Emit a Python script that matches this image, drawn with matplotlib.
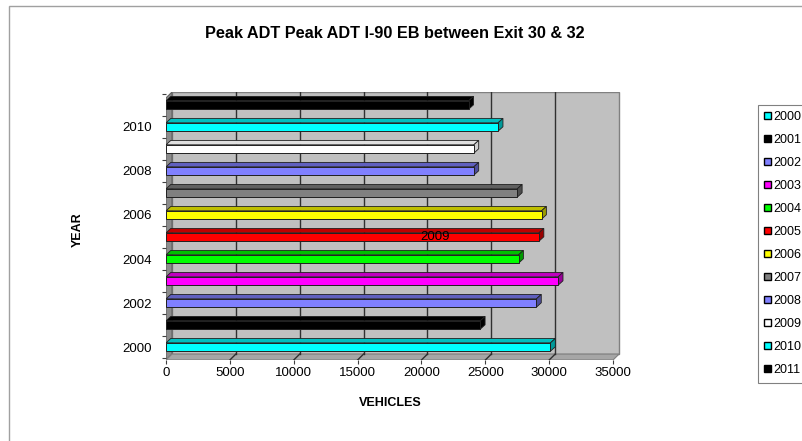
import numpy as np
import matplotlib.pyplot as plt
from matplotlib.patches import Polygon, Rectangle, Patch
import matplotlib.colors as mcolors

plt.rcParams['font.family'] = ['Liberation Sans', 'DejaVu Sans']

### Data
years = ['2000', '2001', '2002', '2003', '2004', '2005',
         '2006', '2007', '2008', '2009', '2010', '2011']
vehicles = [30100, 24600, 29000, 30700, 27600, 29200,
            29400, 27500, 24100, 24100, 26000, 23700]
bar_colors = ['#00ffff', '#000000', '#8080ff', '#ff00ff', '#00ff00', '#ff0000',
              '#ffff00', '#808080', '#8080ff', '#ffffff', '#00ffff', '#000000']
x_ticks = [0, 5000, 10000, 15000, 20000, 25000, 30000, 35000]
title = 'Peak ADT Peak ADT I-90 EB between Exit 30 & 32'


def shade(c, f):
	rgb = np.array(mcolors.to_rgb(c)) * f
	return tuple(rgb)


fig = plt.figure(figsize=(8.02, 4.41), dpi=100)
ax = fig.add_axes([166/802, 81/441, 456/802, 268/441])

xmax = x_ticks[-1]
dx, dy = 470, 0.27          # depth of the 3d box
y0, y1 = -0.59, len(years) - 1 + 0.59
ax.set_xlim(0, 35700)
ax.set_ylim(y0, y1)
for s in ax.spines.values():
	s.set_visible(False)

# walls
ax.add_patch(Rectangle((dx, y0 + dy), xmax, y1 - y0 - dy, fc='#c0c0c0', ec='#808080', lw=1, zorder=0))
ax.add_patch(Polygon([(0, y0), (dx, y0 + dy), (dx, y1), (0, y1 - dy)], closed=True,
                     fc='#8c8c8c', ec='#606060', lw=0.8, zorder=0.2))
ax.add_patch(Polygon([(0, y0), (xmax, y0), (xmax + dx, y0 + dy), (dx, y0 + dy)], closed=True,
                     fc='#a6a6a6', ec='#808080', lw=0.8, zorder=0.2))

# gridlines on the back wall and floor
for v in x_ticks[1:-1]:
	ax.plot([v + dx, v + dx], [y0 + dy, y1], color='#303030', lw=1, zorder=0.5)
	ax.plot([v, v + dx], [y0, y0 + dy], color='#303030', lw=1, zorder=0.5)

# bars
h = 0.38
bdx, bdy = 380, 0.2
idx = np.arange(len(years))
ax.barh(idx, vehicles, height=h, color=bar_colors, edgecolor='#202020', lw=0.7, zorder=3)
for i, (v, c) in enumerate(zip(vehicles, bar_colors)):
	top = [(0, i + h/2), (v, i + h/2), (v + bdx, i + h/2 + bdy), (bdx, i + h/2 + bdy)]
	end = [(v, i - h/2), (v + bdx, i - h/2 + bdy), (v + bdx, i + h/2 + bdy), (v, i + h/2)]
	ax.add_patch(Polygon(top, closed=True, fc=shade(c, 0.75) if c != '#ffffff' else '#e0e0e0',
	                     ec='#202020', lw=0.6, zorder=2.5))
	ax.add_patch(Polygon(end, closed=True, fc=shade(c, 0.6) if c != '#ffffff' else '#d0d0d0',
	                     ec='#202020', lw=0.6, zorder=2.6))

ax.text(21100, 5, '2009', ha='center', va='center', fontsize=9.5, zorder=5)

# axes ticks
ax.set_xticks(x_ticks)
ax.set_xticklabels([str(t) for t in x_ticks], fontsize=9.5)
ax.tick_params(axis='x', length=3, width=0.8, color='#404040', pad=2)
ax.set_yticks(idx[::2])
ax.set_yticklabels(years[::2], fontsize=9.5)
ax.set_yticks(np.arange(-0.5, len(years), 1), minor=True)
ax.tick_params(axis='y', which='major', length=0, pad=10)
ax.tick_params(axis='y', which='minor', length=3, width=0.8, color='#404040')

fig.text(395/802, 1 - 33/441, title, ha='center', va='center', fontsize=11.7, weight='bold')
fig.text(78/802, 1 - 230/441, 'YEAR', ha='center', va='center', rotation=90, fontsize=9, weight='bold')
fig.text(390/802, 1 - 403/441, 'VEHICLES', ha='center', va='center', fontsize=9, weight='bold')

# legend
handles = [Patch(fc=c, ec='black', lw=1) for c in bar_colors]
leg = fig.legend(handles, years, loc='upper left', bbox_to_anchor=(758/802, 1 - 105/441),
                 fontsize=9, handlelength=0.5, handleheight=0.5, handletextpad=0.2,
                 labelspacing=0.88, borderpad=0.5, borderaxespad=0, fancybox=False,
                 framealpha=1, edgecolor='#808080')
leg.get_frame().set_linewidth(0.8)

# chart border
fig.patches.append(Rectangle((9/802, -0.1), 1.0, 1 - 6/441 + 0.1, transform=fig.transFigure,
                             fill=False, ec='#a0a0a0', lw=1))

plt.savefig('out.png', dpi=100)
